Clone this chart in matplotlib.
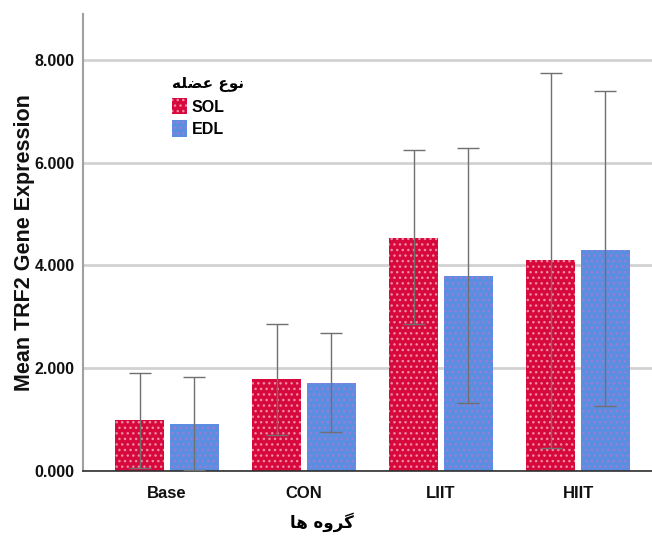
import matplotlib
matplotlib.use("Agg")
import matplotlib.pyplot as plt
import numpy as np

plt.rcParams['hatch.linewidth'] = 1.0

groups = ["Base", "CON", "LIIT", "HIIT"]
series = ["SOL", "EDL"]
sol_mean = [0.99, 1.78, 4.53, 4.10]
sol_low = [0.06, 0.71, 2.85, 0.44]
sol_high = [1.91, 2.86, 6.24, 7.75]
edl_mean = [0.91, 1.71, 3.79, 4.30]
edl_low = [0.02, 0.75, 1.33, 1.27]
edl_high = [1.82, 2.69, 6.28, 7.39]
yticks = [0, 2, 4, 6, 8]
ytick_labels = ["0.000", "2.000", "4.000", "6.000", "8.000"]

# Persian text, presentation forms in visual order
legend_title = "\uFEEA\uFEE0\uFEC0\uFECB \uFEC9\uFEEE\uFEE7"   # نوع عضله
xlabel_text = "\uFE8E\uFEEB \uFEE9\uFEED\uFEAE\uFB94"          # گروه ها

fig = plt.figure(figsize=(6.52, 5.40), dpi=100)
ax_w = 1 - 83/652
ax = fig.add_axes([83/652, 1-471/540, ax_w, (471-14)/540])

x = np.arange(len(groups))
w = 0.36
off = 0.2
colors = ["#D6083C", "#5A8EE0"]
hatchc = ["#F48AA4", "#9C7CD6"]
means = [sol_mean, edl_mean]
lows = [sol_low, edl_low]
highs = [sol_high, edl_high]

for i, name in enumerate(series):
    pos = x + (-off if i == 0 else off)
    ax.bar(pos, means[i], width=w, facecolor=colors[i], edgecolor=hatchc[i],
           hatch='...', linewidth=0.0, label=name, zorder=2)
    m = np.array(means[i])
    yerr = [m - np.array(lows[i]), np.array(highs[i]) - m]
    ax.errorbar(pos, m, yerr=yerr, fmt='none', ecolor='#707070',
                elinewidth=1.0, capsize=8, capthick=1.0, zorder=3)

ax.set_xlim(-0.613, 3.54)
ax.set_ylim(0, 8.89)
ax.set_yticks(yticks)
ax.set_yticklabels(ytick_labels)
ax.set_xticks(x)
ax.set_xticklabels(groups)
ax.yaxis.grid(True, color='#D2D2D2', linewidth=2.0, zorder=0)
ax.set_axisbelow(True)
for s in ['top', 'right']:
    ax.spines[s].set_visible(False)
ax.spines['left'].set_color('#A0A0A0')
ax.spines['left'].set_linewidth(1.5)
ax.spines['bottom'].set_color('#303030')
ax.spines['bottom'].set_linewidth(1.2)
ax.tick_params(axis='y', length=0, pad=6)
ax.tick_params(axis='x', length=0, pad=11)
for lab in ax.get_yticklabels():
    lab.set_fontfamily('Liberation Sans')
    lab.set_fontweight('bold')
    lab.set_fontsize(11.5)
    lab.set_color('#111111')
for lab in ax.get_xticklabels():
    lab.set_fontfamily('Liberation Sans')
    lab.set_fontweight('bold')
    lab.set_fontsize(12)
    lab.set_color('#111111')

ax.set_ylabel("Mean TRF2 Gene Expression", fontsize=15.5, fontweight='bold',
              family='Liberation Sans', color='#111111')
ax.yaxis.set_label_coords(-(83-35)/(ax_w*652), 0.5)

fig.text(322/652, 1-522/540, xlabel_text, ha='center', va='center',
         fontsize=12, fontweight='bold', family=['DejaVu Sans'])

leg = ax.legend(loc='upper left', bbox_to_anchor=(75/569, 1-48/457), frameon=False,
                title=legend_title, alignment='left', handlelength=0.9,
                handleheight=1.2, handletextpad=0.3, labelspacing=0.35,
                prop={'family': 'Liberation Sans', 'weight': 'bold', 'size': 11.5})
leg.get_title().set_fontweight('bold')
leg.get_title().set_fontsize(11)
leg.get_title().set_family('DejaVu Sans')

fig.savefig("out.png", dpi=100)
